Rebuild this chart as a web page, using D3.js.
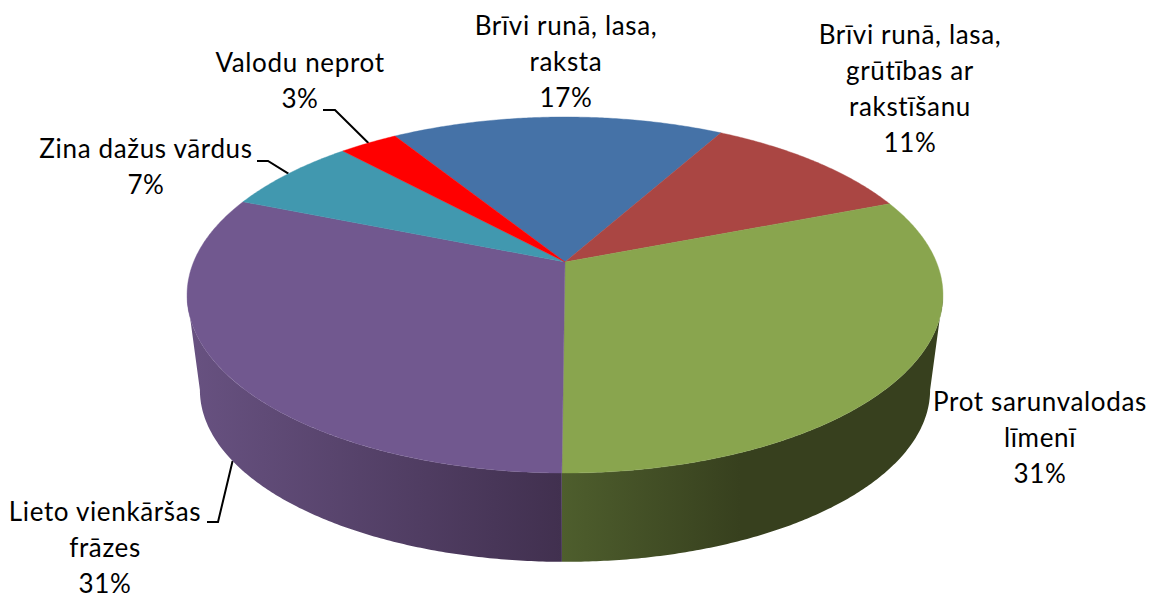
<!DOCTYPE html>
<html>
<head>
<meta charset="utf-8">
<script src="https://cdn.jsdelivr.net/npm/d3@7"></script>
<style>
  html, body { margin: 0; padding: 0; background: #fff; }
  svg { display: block; }
  text { font-family: Lato, Carlito, "Open Sans", sans-serif; fill: #000; letter-spacing: 0.65px; }
</style>
</head>
<body>
<svg id="drawing_region"></svg>
<script>
// data, clockwise from the first blue slice
const categories = [
    'Brīvi runā, lasa, raksta',
    'Brīvi runā, lasa, grūtības ar rakstīšanu',
    'Prot sarunvalodas līmenī',
    'Lieto vienkāršas frāzes',
    'Zina dažus vārdus',
    'Valodu neprot'
];
const percents = [17, 11, 31, 31, 7, 3];
const colors = ['#4572a7', '#aa4643', '#89a54e', '#71588f', '#4198af', '#ff0000'];

// label layout: text lines, centre x, first baseline
const labelLines = [
    ['Brīvi runā, lasa,', 'raksta', '17%'],
    ['Brīvi runā, lasa,', 'grūtības ar', 'rakstīšanu', '11%'],
    ['Prot sarunvalodas', 'līmenī', '31%'],
    ['Lieto vienkāršas', 'frāzes', '31%'],
    ['Zina dažus vārdus', '7%'],
    ['Valodu neprot', '3%']
];
const labelX = [566, 910, 1040, 105, 146, 300];
const labelY = [35, 44, 411, 521, 158, 72];

const width = 1150, height = 595;
const lineStep = 36;

// pie geometry (perspective view of a disc)
const cx = 565, cyTop = 262, cyBottom = 358;
const rx = 371.4, ry = 171.9, tilt = 0.1854, bottomScale = 0.966;
const rad = d => d * Math.PI / 180;

// a is clockwise from 12 o'clock, as in d3.pie
function project(a, cy, s) {
    const u = Math.sin(a), v = -Math.cos(a);
    const w = 1 - tilt * v;
    return [cx + s * rx * u / w, cy + s * ry * v / w];
}
const topPt = a => project(a, cyTop, 1);
const bottomPt = a => project(a, cyBottom, bottomScale);

function sample(a0, a1) {
    const n = Math.max(2, Math.ceil(Math.abs(a1 - a0) / rad(0.5)));
    return d3.range(n + 1).map(i => a0 + (a1 - a0) * i / n);
}

const svg = d3.select('#drawing_region')
    .attr('width', width)
    .attr('height', height);

const line = d3.line();
const closed = d3.line().curve(d3.curveLinearClosed);

const pie = d3.pie()
    .sort(null)
    .value(d => d)
    .startAngle(rad(-32))
    .endAngle(rad(-32) + 2 * Math.PI);
const arcs = pie(percents);

// leaders sit under the pie
const leader = svg.append('g')
    .attr('fill', 'none')
    .attr('stroke', '#000')
    .attr('stroke-width', 2);
const mid = d => (d.startAngle + d.endAngle) / 2;
leader.append('path').attr('d', line([[323, 110], [335, 110], topPt(mid(arcs[5]))]));
leader.append('path').attr('d', line([[257, 161], [268, 161], topPt(mid(arcs[4]))]));
leader.append('path').attr('d', line([[207, 522], [218, 522], bottomPt(mid(arcs[3]))]));

// side wall shading
const defs = svg.append('defs');
function gradient(id, x1, x2, stops) {
    const g = defs.append('linearGradient')
        .attr('id', id)
        .attr('gradientUnits', 'userSpaceOnUse')
        .attr('x1', x1).attr('x2', x2)
        .attr('y1', 0).attr('y2', 0);
    stops.forEach(s => g.append('stop').attr('offset', s[0]).attr('stop-color', s[1]));
}
gradient('wallPurple', 195, 562, [[0, '#675180'], [1, '#41304f']]);
gradient('wallGreen', 562, 740, [[0, '#4e5e2d'], [1, '#37401e']]);

// visible wall runs between the two widest points of the disc
const edge = Math.acos(-tilt);
const seam = arcs[3].startAngle;
const walls = [
    { from: edge, to: seam, fill: 'url(#wallGreen)' },
    { from: seam, to: 2 * Math.PI - edge, fill: 'url(#wallPurple)' }
];
svg.append('g').selectAll('path')
    .data(walls)
    .join('path')
    .attr('d', d => {
        const angles = sample(d.from, d.to);
        return closed(angles.map(topPt).concat(angles.slice().reverse().map(bottomPt)));
    })
    .attr('fill', d => d.fill);

// top face
svg.append('g').selectAll('path')
    .data(arcs)
    .join('path')
    .attr('d', d => closed([[cx, cyTop]].concat(sample(d.startAngle, d.endAngle).map(topPt))))
    .attr('fill', (d, i) => colors[i])
    .attr('stroke', (d, i) => colors[i])
    .attr('stroke-width', 0.4);

// labels
const labels = svg.append('g').selectAll('text')
    .data(categories)
    .join('text')
    .attr('text-anchor', 'middle')
    .attr('font-size', 26);
labels.selectAll('tspan')
    .data((d, i) => labelLines[i].map((t, j) => ({ t, j, i })))
    .join('tspan')
    .attr('x', d => labelX[d.i])
    .attr('y', d => labelY[d.i] + d.j * lineStep)
    .text(d => d.t);
</script>
</body>
</html>
